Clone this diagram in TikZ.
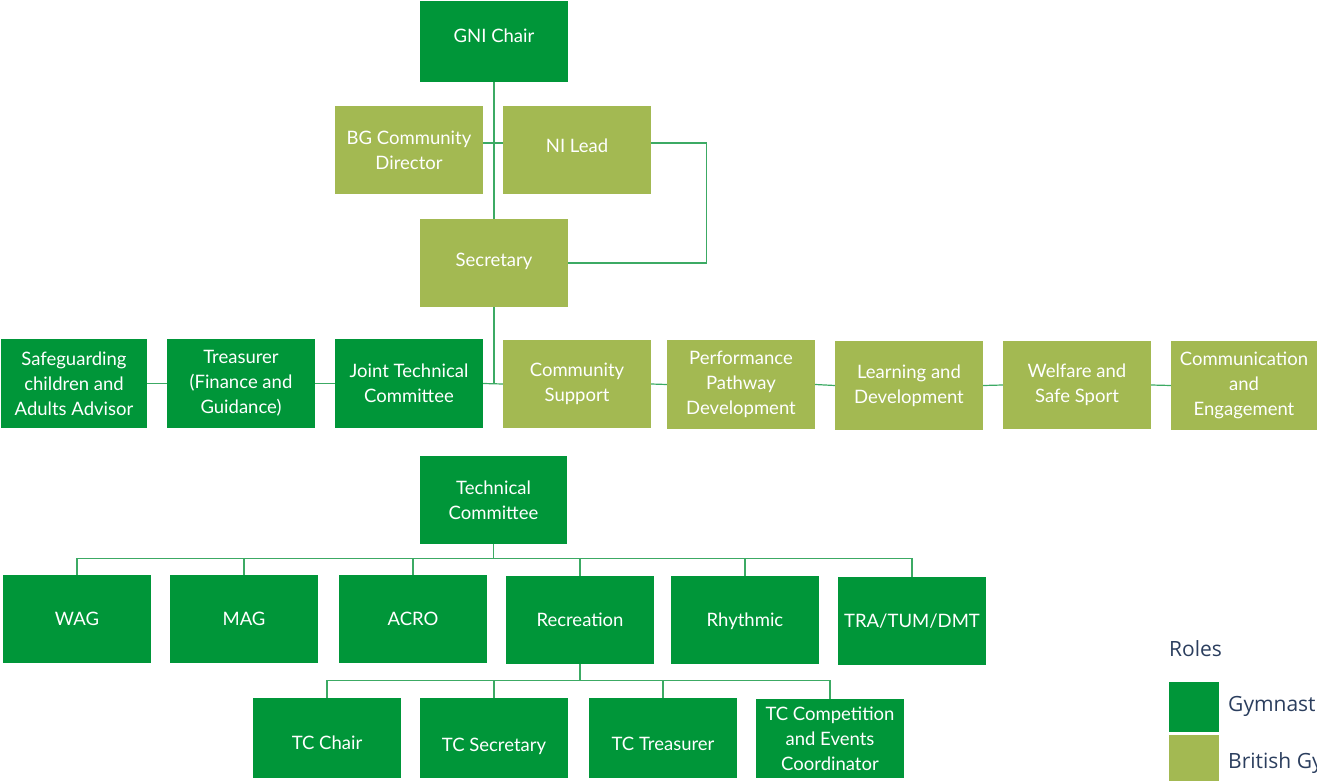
\documentclass[tikz,border=0pt]{standalone}
\usepackage{fontspec}
\setmainfont{Lato}
\newfontfamily\legendfont{Open Sans}
\usetikzlibrary{calc}
\definecolor{gnigreen}{RGB}{0,150,57}
\definecolor{bggreen}{RGB}{163,185,82}
\definecolor{linegreen}{RGB}{60,170,100}
\definecolor{navy}{RGB}{43,62,94}
\newcommand{\shifttext}[2]{\raisebox{#1}[\height][\depth]{#2}}
\begin{document}
\begin{tikzpicture}[x=1pt,y=1pt,
  box/.style={minimum width=148pt, minimum height=88pt, inner sep=1pt, align=center,
    text=white, font=\fontsize{18.5}{25}\selectfont},
  gnibox/.style={box, fill=gnigreen},
  bgbox/.style={box, fill=bggreen},
  conn/.style={draw=linegreen, line width=1.2pt},
  legendtext/.style={text=navy, anchor=west, inner sep=0pt, font=\legendfont\fontsize{21}{25}\selectfont}]
\useasboundingbox (0,0) rectangle (1317,-781);
\clip (0,0) rectangle (1317,-781);
% top
\node[gnibox, minimum height=81pt] (gni) at (494,-41.5) {\shifttext{6pt}{GNI Chair}};
\node[bgbox] (bgcd) at (409,-150) {BG Community\\Director};
\node[bgbox] (nil) at (577,-150) {\shifttext{4pt}{NI Lead}};
\node[bgbox] (sec) at (494,-263) {\shifttext{2pt}{Secretary}};
% row
\node[gnibox, minimum width=146pt, minimum height=89pt] (sg) at (74,-383.5) {Safeguarding\\children and\\Adults Advisor};
\node[gnibox, minimum height=89pt] (tr) at (241,-383.5) {Treasurer\\(Finance and\\Guidance)};
\node[gnibox, minimum height=89pt] (jtc) at (409,-383.5) {Joint Technical\\Committee};
\node[bgbox] (cs) at (577,-384) {Community\\Support};
\node[bgbox, minimum height=89pt] (ppd) at (741,-384.5) {Performance\\Pathway\\Development};
\node[bgbox, minimum height=89pt] (ld) at (909,-385.5) {Learning and\\Development};
\node[bgbox] (wss) at (1077,-385) {Welfare and\\Safe Sport};
\node[bgbox, minimum width=146pt, minimum height=89pt] (ce) at (1244,-385.5) {Communication\\and\\Engagement};
% technical committee
\node[gnibox, minimum width=147pt] (tc) at (493.5,-500) {Technical\\Committee};
\node[gnibox] (wag) at (77,-619) {WAG};
\node[gnibox] (mag) at (244,-619) {MAG};
\node[gnibox] (acro) at (413,-619) {ACRO};
\node[gnibox] (rec) at (580,-620) {Recreation};
\node[gnibox] (rhy) at (745,-620) {\shifttext{-1pt}{Rhythmic}};
\node[gnibox] (tra) at (912,-621) {TRA/TUM/DMT};
% recreation children
\node[gnibox, minimum height=80pt] (tcc) at (327,-738) {\shifttext{-5pt}{TC Chair}};
\node[gnibox, minimum height=80pt] (tcs) at (494,-738) {\shifttext{-8pt}{TC Secretary}};
\node[gnibox, minimum height=80pt] (tct) at (663,-738) {\shifttext{-6pt}{TC Treasurer}};
\node[gnibox, minimum height=79pt] (tce) at (830,-738.5) {TC Competition\\and Events\\Coordinator};
% connectors top
\draw[conn] (gni.south) -- (sec.north);
\draw[conn] ($(bgcd.east)+(0,7)$) -- ($(nil.west)+(0,7)$);
\draw[conn] ($(nil.east)+(0,7)$) -- ++(55,0) |- (sec.east);
\coordinate (rowjoin) at (sec.south |- jtc.east);
\draw[conn] (sec.south) -- (rowjoin);
\draw[conn] (sg.east) -- (tr.west);
\draw[conn] (tr.east) -- (jtc.west);
\draw[conn] (jtc.east) -- (cs.west);
\draw[conn] (cs.east) -- (ppd.west);
\draw[conn] (ppd.east) -- (ld.west);
\draw[conn] (ld.east) -- (wss.west);
\draw[conn] (wss.east) -- (ce.west);
% TC tree
\coordinate (tcbus) at ($(tc.south)+(0,-14)$);
\draw[conn] (tc.south) -- (tcbus);
\foreach \n in {wag,mag,acro,rec,rhy,tra} \draw[conn] (tcbus) -| (\n.north);
% recreation tree
\coordinate (recbus) at ($(rec.south)+(0,-16)$);
\draw[conn] (rec.south) -- (recbus);
\foreach \n in {tcc,tcs,tct,tce} \draw[conn] (recbus) -| (\n.north);
% legend
\node[legendtext] (roles) at (1169,-649) {Roles};
\fill[gnigreen] (1169,-682) rectangle (1219,-732);
\fill[bggreen] (1169,-735) rectangle (1219,-781);
\node[legendtext] (leg1) at (1228,-706) {Gymnastics NI};
\node[legendtext] (leg2) at (1228,-763) {British Gymnastics};
\end{tikzpicture}
\end{document}
